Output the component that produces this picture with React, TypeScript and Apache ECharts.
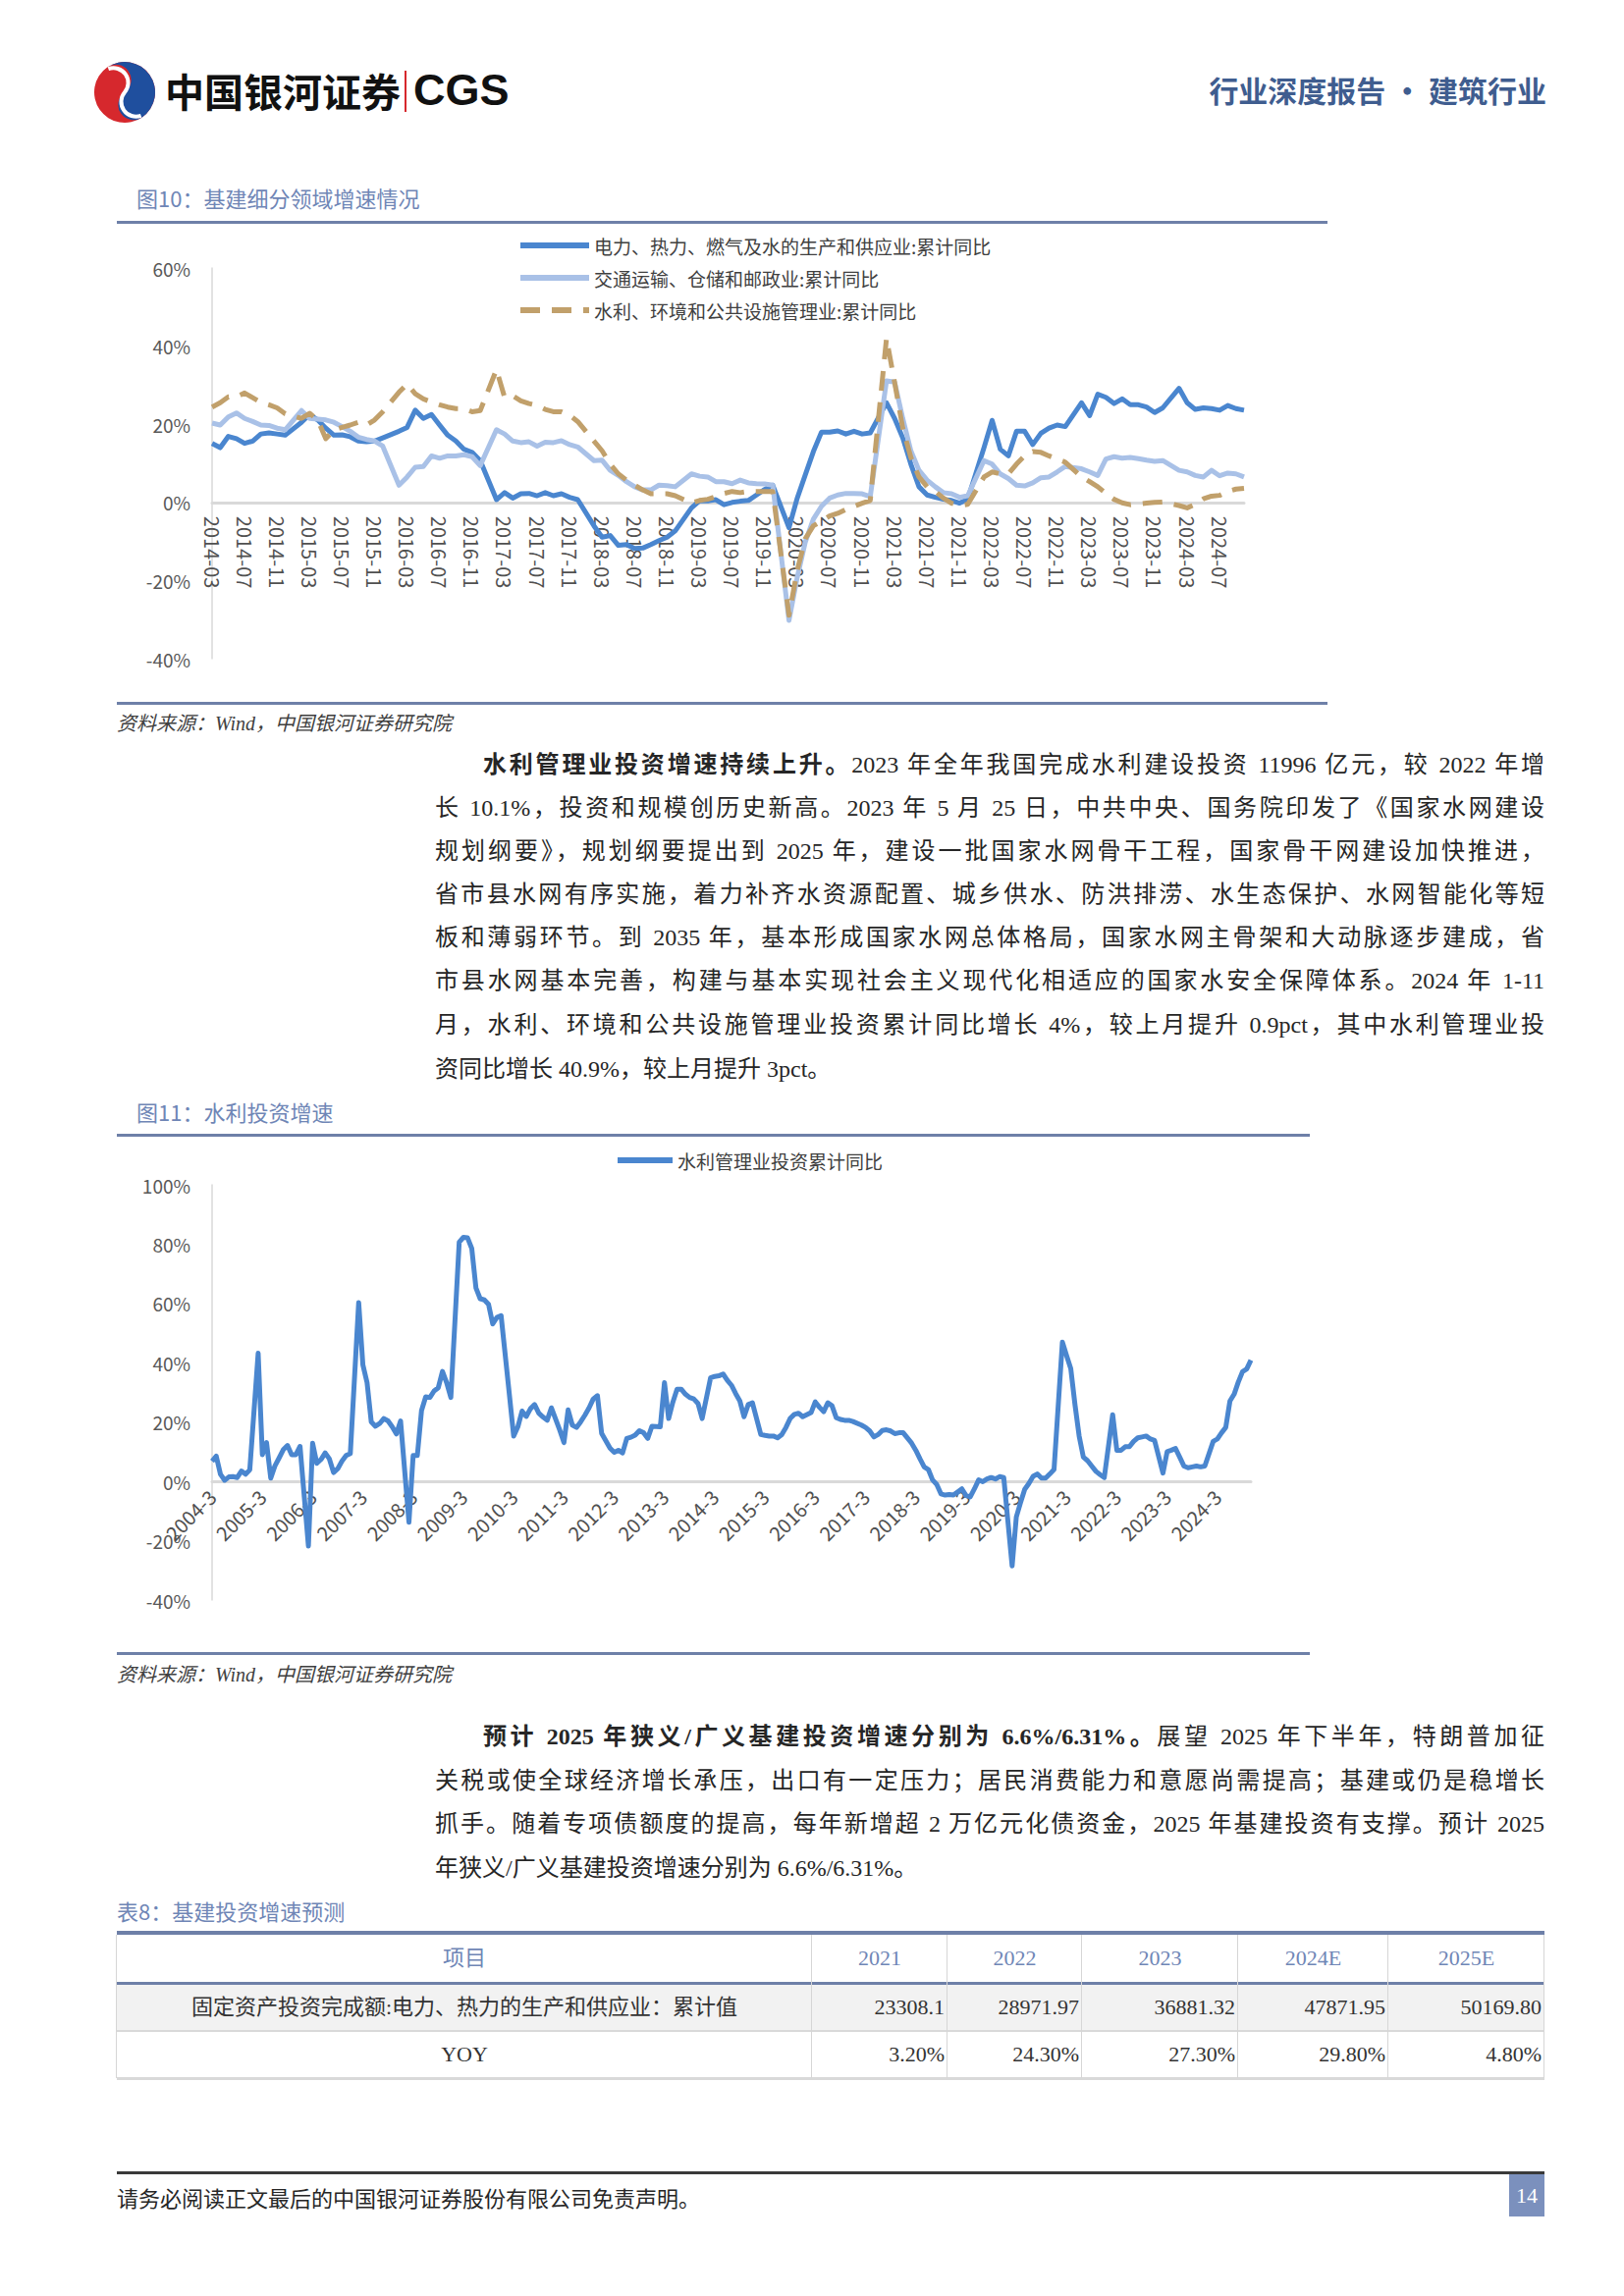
import React, { useEffect, useRef } from "react";
import * as echarts from "echarts";

// ---------- Chart 1 data (monthly, 2014-03 .. 2024-10; January not published -> null) ----------
const c1Start = { y: 2014, m: 3 };
const c1Count = 128;
const s1Name = "电力、热力、燃气及水的生产和供应业:累计同比";
const s2Name = "交通运输、仓储和邮政业:累计同比";
const s3Name = "水利、环境和公共设施管理业:累计同比";

const powerYoY = [
  15.1, 14.0, 16.9, 16.3, 15.1, 15.7, 17.5, 17.8, 17.5, 17.2,
  null, 20.5, 22.5, 21.1, 19.0, 17.2, 17.3, 16.8, 15.7, 15.5, 15.7, 16.5,
  null, 18.2, 19.2, 23.6, 21.5, 22.5, 19.8, 17.2, 15.7, 13.6, 12.8, 10.7,
  null, 0.7, 2.5, 1.1, 2.2, 2.3, 1.7, 2.5, 1.7, 2.2, 1.3, 0.7,
  null, -6.0, -8.9, -8.5, -11.0, -10.8, -11.8, -11.7, -10.8, -9.8, -8.9, -7.3,
  null, -1.4, 0.4, 0.4, 0.7, -0.6, 0.0, 0.3, 0.5, 1.9, 3.3, 4.4,
  null, -6.5, 1.0, 7.0, 13.0, 18.0, 18.0, 18.3, 17.5, 18.2, 17.5, 17.8,
  null, 25.5, 21.5, 16.5, 9.8, 4.0, 1.9, 1.3, 0.8, 0.5, -0.2, 0.8,
  null, 14.0, 21.0, 13.6, 11.9, 18.2, 18.2, 14.8, 17.7, 19.0, 19.8, 19.4,
  null, 25.5, 22.2, 27.7, 26.9, 25.3, 26.5, 25.0, 25.0, 24.4, 23.0, 24.2,
  null, 29.2, 25.5, 23.8, 24.2, 24.0, 23.6, 24.8, 24.0, 23.6,
];
const transportYoY = [
  20.3, 19.8, 21.9, 22.9, 21.5, 20.7, 19.8, 19.7, 19.0, 18.6,
  null, 23.5, 21.5, 21.3, 21.1, 20.5, 19.4, 18.2, 16.7, 16.1, 15.7, 14.4,
  null, 4.4, 6.5, 9.0, 9.2, 11.9, 11.3, 11.9, 11.9, 12.2, 11.7, 9.4,
  null, 18.6, 17.5, 15.7, 15.3, 15.5, 14.4, 15.4, 15.3, 15.8, 14.8, 14.2,
  null, 10.7, 10.8, 8.2, 6.9, 5.3, 4.0, 3.2, 3.2, 4.4, 4.3, 4.0,
  null, 7.3, 6.7, 6.5, 5.3, 5.3, 4.8, 5.7, 5.0, 4.8, 4.7, 4.4,
  null, -30.2, -19.3, -10.2, -4.3, -1.0, 1.1, 1.9, 2.3, 2.3, 2.2, 1.5,
  null, 31.1, 30.8, 21.5, 13.2, 8.2, 5.7, 4.0, 2.5, 2.2, 1.3, 1.7,
  null, 10.7, 9.8, 7.3, 6.1, 4.4, 4.2, 5.0, 6.3, 6.5, 7.8, 9.2,
  null, 8.6, 7.8, 6.9, 11.1, 11.7, 11.3, 11.5, 11.2, 10.8, 10.5, 10.7,
  null, 8.2, 7.8, 6.9, 6.5, 8.2, 6.8, 7.5, 7.3, 6.5,
];
const waterEnvYoY = [
  24.4, 25.5, 27.0, 27.0, 28.0, 26.8, 25.6, 25.0, 24.2, 22.7,
  null, 21.5, 22.8, 21.1, 16.3, 18.6, 19.2, 19.8, 20.5, 19.8, 21.1, 23.2,
  null, 28.2, 30.3, 27.8, 26.5, 25.7, 25.0, 24.4, 24.0, 24.0, 23.2, 23.5,
  null, 34.0, 26.9, 27.3, 26.0, 25.3, 24.8, 23.8, 23.2, 23.2, 22.3, 20.7,
  null, 15.7, 13.2, 9.8, 7.3, 5.7, 4.4, 3.2, 2.2, 2.2, 2.2, 1.7,
  null, -0.2, 0.5, 0.8, 1.5, 2.3, 2.8, 2.5, 2.8, 2.8, 2.8, 2.8,
  null, -28.9, -17.5, -9.3, -6.0, -4.8, -3.5, -2.8, -1.8, -1.0, -0.2, 0.5,
  null, 42.0, 30.7, 19.0, 11.5, 6.5, 4.0, 2.8, 1.1, -0.2, -0.8, -0.5,
  null, 6.5, 7.8, 7.3, 7.3, 9.8, 11.9, 13.0, 12.8, 11.9, 11.1, 10.3,
  null, 6.5, 5.3, 4.0, 2.3, 0.8, -0.1, -0.6, -0.4, -0.2, 0.0, 0.1,
  null, -0.8, -1.4, -0.5, 0.9, 1.6, 1.8, 2.8, 3.4, 3.6,
];

// ---------- Chart 2 data (monthly, 2004-03 .. 2024-11; January not published -> null) ----------
const c2Start = { y: 2004, m: 3 };
const c2Count = 249;
const waterMgmtName = "水利管理业投资累计同比";
const waterMgmtYoY = [
  6.8, 8.5, 2.4, 0.4, 1.5, 1.6, 1.3, 3.5, 2.4, 3.9,
  null, 43.2, 9.0, 13.1, 1.1, 5.2, 7.9, 10.7, 12.1, 9.0, 9.0, 11.8,
  null, -21.8, 12.9, 6.1, 7.4, 9.6, 7.6, 3.0, 4.3, 6.8, 8.7, 9.4,
  null, 60.3, 39.3, 33.3, 20.1, 18.6, 19.5, 21.2, 20.4, 18.4, 16.0, 20.4,
  null, -13.8, 8.7, 8.7, 23.9, 28.5, 28.3, 30.5, 31.6, 37.1, 33.3, 28.3,
  null, 80.7, 82.3, 82.1, 78.5, 65.2, 61.6, 61.2, 59.7, 53.1, 55.3, 55.9,
  null, 28.9, 15.3, 18.4, 23.7, 21.9, 24.5, 25.9, 23.0, 21.7, 20.6, 24.8,
  null, 17.3, 13.1, 24.1, 19.0, 18.2, 20.1, 22.3, 24.8, 27.8, 28.9, 16.2,
  null, 11.2, 9.8, 10.5, 9.6, 14.5, 14.9, 15.6, 17.1, 16.4, 14.5, 18.6,
  null, 18.4, 33.3, 21.2, 26.7, 31.1, 31.1, 29.4, 28.3, 27.8, 26.3, 21.2,
  null, 34.9, 35.4, 35.6, 36.2, 34.1, 32.4, 29.6, 27.1, 21.8, 25.9, 26.5,
  null, 15.8, 15.5, 15.3, 15.3, 14.7, 15.8, 18.2, 21.2, 22.6, 23.0, 21.8,
  null, 23.2, 26.8, 25.0, 23.5, 26.5, 25.5, 21.5, 20.9, 20.6, 20.6, 20.2,
  null, 19.0, 18.2, 17.0, 15.0, 15.8, 17.2, 17.4, 17.0, 16.1, 16.4, 16.4,
  null, 12.9, 10.5, 7.6, 4.9, 4.0, 0.5, -1.0, -4.2, -4.6, -4.4, -4.6,
  null, -2.5, -4.8, -5.2, -2.5, 0.5, -0.1, 0.8, 1.3, 0.8, 1.6, 1.3,
  null, -28.5, -12.0, -7.2, -2.7, -0.7, 1.7, 2.5, 1.1, 1.1, 2.5, 4.0,
  null, 47.0, 42.4, 38.0, 25.9, 15.3, 8.2, 7.0, 5.2, 3.4, 2.3, 1.3,
  null, 22.5, 10.5, 10.5, 11.7, 11.7, 13.5, 14.7, 15.0, 15.3, 14.3, 13.8,
  null, 2.8, 10.0, 10.5, 11.1, 8.2, 5.2, 4.6, 4.9, 5.2, 4.9, 5.2,
  null, 13.5, 14.3, 16.4, 18.2, 27.1, 29.4, 33.5, 37.0, 37.9, 40.9,
];

// ---------- Axis ranges / tick labels ----------
const c1YMin = -40, c1YMax = 60, c1YStep = 20;
const c2YMin = -40, c2YMax = 100, c2YStep = 20;

// ---------- Table data ----------
const tableHead = ["项目", "2021", "2022", "2023", "2024E", "2025E"];
const tableRow1Label = "固定资产投资完成额:电力、热力的生产和供应业：累计值";
const tableRow1 = ["23308.1", "28971.97", "36881.32", "47871.95", "50169.80"];
const tableRow2Label = "YOY";
const tableRow2 = ["3.20%", "24.30%", "27.30%", "29.80%", "4.80%"];

function months(start: { y: number; m: number }, count: number, pad: boolean) {
  const out: string[] = [];
  for (let k = 0; k < count; k++) {
    const t = start.m - 1 + k;
    const y = start.y + Math.floor(t / 12);
    const m = (t % 12) + 1;
    out.push(`${y}-${pad && m < 10 ? "0" + m : m}`);
  }
  return out;
}
const cats1 = months(c1Start, c1Count, true);
const cats2 = months(c2Start, c2Count, false);

const CJK = "'Noto Sans CJK SC', 'Noto Sans', sans-serif";
const SERIF = "'Liberation Serif', 'Noto Sans CJK SC', serif";
const BLUE = "#4a86cf";
const LIGHT = "#a9c1e7";
const TAN = "#c1a06b";
const TITLE = "#6f86b6";
const RULE = "#6e80a8";

function abs(left: number, top: number, extra: React.CSSProperties = {}): React.CSSProperties {
  return { position: "absolute", left, top, ...extra };
}

const p1Lines: React.ReactNode[] = [
  <>
    <b>水利管理业投资增速持续上升。</b>2023 年全年我国完成水利建设投资 11996 亿元，较 2022 年增
  </>,
  <>长 10.1%，投资和规模创历史新高。2023 年 5 月 25 日，中共中央、国务院印发了《国家水网建设</>,
  <>规划纲要》，规划纲要提出到 2025 年，建设一批国家水网骨干工程，国家骨干网建设加快推进，</>,
  <>省市县水网有序实施，着力补齐水资源配置、城乡供水、防洪排涝、水生态保护、水网智能化等短</>,
  <>板和薄弱环节。到 2035 年，基本形成国家水网总体格局，国家水网主骨架和大动脉逐步建成，省</>,
  <>市县水网基本完善，构建与基本实现社会主义现代化相适应的国家水安全保障体系。2024 年 1-11</>,
  <>月，水利、环境和公共设施管理业投资累计同比增长 4%，较上月提升 0.9pct，其中水利管理业投</>,
  <>资同比增长 40.9%，较上月提升 3pct。</>,
];
const p1Y = [779, 823, 867, 911, 955, 999, 1044, 1089];

const p2Lines: React.ReactNode[] = [
  <>
    <b>预计 2025 年狭义/广义基建投资增速分别为 6.6%/6.31%。</b>展望 2025 年下半年，特朗普加征
  </>,
  <>关税或使全球经济增长承压，出口有一定压力；居民消费能力和意愿尚需提高；基建或仍是稳增长</>,
  <>抓手。随着专项债额度的提高，每年新增超 2 万亿元化债资金，2025 年基建投资有支撑。预计 2025</>,
  <>年狭义/广义基建投资增速分别为 6.6%/6.31%。</>,
];
const p2Y = [1769, 1814, 1858, 1903];

function Paragraph({ lines, ys }: { lines: React.ReactNode[]; ys: number[] }) {
  return (
    <>
      {lines.map((ln, i) => {
        const left = i === 0 ? 492 : 443;
        const last = i === lines.length - 1;
        return (
          <div
            key={i}
            style={abs(left, ys[i] - 22, {
              width: 1573 - left,
              height: 44,
              lineHeight: "44px",
              fontSize: 24,
              fontFamily: SERIF,
              color: "#262626",
              textAlign: last ? "left" : "justify",
              textAlignLast: last ? "left" : "justify",
              overflow: "hidden",
            } as React.CSSProperties)}
          >
            {ln}
          </div>
        );
      })}
    </>
  );
}

export default function App() {
  const ref1 = useRef<HTMLDivElement>(null);
  const ref2 = useRef<HTMLDivElement>(null);

  useEffect(() => {
    const ch1 = echarts.init(ref1.current!, undefined, { renderer: "svg" });
    const ch2 = echarts.init(ref2.current!, undefined, { renderer: "svg" });

    const lineSeries = (name: string, data: (number | null)[], color: string, dashed = false) => ({
      name,
      type: "line",
      data,
      symbol: "none",
      showSymbol: false,
      connectNulls: true,
      lineStyle: { width: 5, color, type: dashed ? [20, 12] : "solid", cap: "butt", join: "round" },
      itemStyle: { color },
    });

    const legendBase = {
      itemHeight: 14,
      itemStyle: { opacity: 0, borderWidth: 0 },
      lineStyle: { width: 6, cap: "butt" },
      textStyle: { fontSize: 19, lineHeight: 20, color: "#404040", fontFamily: CJK },
    };

    const g1 = { left: 116, top: 43, width: 1051, height: 398 };
    const g2 = { left: 116, top: 47, width: 1058, height: 423 };
    const zeroOffset = (h: number, min: number, max: number) => -h * (0 - min) / (max - min);

    ch1.setOption({
      animation: false,
      textStyle: { fontFamily: CJK },
      legend: {
        ...legendBase,
        orient: "vertical",
        left: 422,
        top: 5,
        itemWidth: 70,
        itemGap: 13,
        data: [s1Name, s2Name, s3Name],
      },
      grid: { ...g1, containLabel: false, outerBoundsMode: "none" },
      xAxis: {
        type: "category",
        data: cats1,
        boundaryGap: false,
        offset: zeroOffset(g1.height, c1YMin, c1YMax),
        axisLine: { onZero: false, lineStyle: { color: "#d9d9d9", width: 3 } },
        axisTick: { show: false },
        axisLabel: { interval: 3, rotate: -90, fontSize: 20, color: "#505050", margin: 14, fontFamily: CJK },
        splitLine: { show: false },
      },
      yAxis: {
        type: "value",
        min: c1YMin,
        max: c1YMax,
        interval: c1YStep,
        axisLine: { show: true, lineStyle: { color: "#d9d9d9", width: 1.5 } },
        axisTick: { show: false },
        splitLine: { show: false },
        axisLabel: { formatter: "{value}%", fontSize: 19, color: "#595959", margin: 22, fontFamily: CJK },
      },
      series: [
        lineSeries(s1Name, powerYoY, BLUE),
        lineSeries(s2Name, transportYoY, LIGHT),
        lineSeries(s3Name, waterEnvYoY, TAN, true),
      ],
    });

    ch2.setOption({
      animation: false,
      textStyle: { fontFamily: CJK },
      legend: {
        ...legendBase,
        left: 521,
        top: 7,
        itemWidth: 56,
        data: [waterMgmtName],
      },
      grid: { ...g2, containLabel: false, outerBoundsMode: "none" },
      xAxis: {
        type: "category",
        data: cats2,
        boundaryGap: false,
        offset: zeroOffset(g2.height, c2YMin, c2YMax),
        axisLine: { onZero: false, lineStyle: { color: "#d9d9d9", width: 3 } },
        axisTick: { show: false },
        axisLabel: { interval: 11, rotate: 45, fontSize: 20, color: "#505050", margin: 12, fontFamily: CJK },
        splitLine: { show: false },
      },
      yAxis: {
        type: "value",
        min: c2YMin,
        max: c2YMax,
        interval: c2YStep,
        axisLine: { show: true, lineStyle: { color: "#d9d9d9", width: 1.5 } },
        axisTick: { show: false },
        splitLine: { show: false },
        axisLabel: { formatter: "{value}%", fontSize: 19, color: "#595959", margin: 22, fontFamily: CJK },
      },
      series: [lineSeries(waterMgmtName, waterMgmtYoY, BLUE)],
    });

    return () => {
      ch1.dispose();
      ch2.dispose();
    };
  }, []);

  const colX = [119, 827, 965, 1102, 1261, 1414, 1573];

  return (
    <div style={{ position: "absolute", left: 0, top: 0, width: 1654, height: 2339, background: "#fff", overflow: "hidden" }}>
      {/* ---------- Header ---------- */}
      <svg style={abs(92, 60)} width="70" height="68" viewBox="0 0 70 68">
        <g transform="rotate(-35 35 34)">
          <ellipse cx="35" cy="34" rx="31" ry="31" fill="#d6282d" />
          <path d="M35 3 A31 31 0 0 1 35 65 A15.5 15.5 0 0 1 35 34 A15.5 15.5 0 0 0 35 3 Z" fill="#1f4f9e" />
          <path d="M35 5 A15 15 0 0 1 35 34 A15 15 0 0 0 35 63" fill="none" stroke="#fff" strokeWidth="4" />
        </g>
      </svg>
      <div style={abs(168, 68, { fontSize: 40, fontWeight: 700, fontFamily: CJK, color: "#111", lineHeight: "48px" })}>中国银河证券</div>
      <div style={abs(412, 72, { width: 2, height: 42, background: "#d6282d" })} />
      <div style={abs(421, 67, { fontSize: 45, fontWeight: 700, fontFamily: "'Liberation Sans', Arial, sans-serif", color: "#111", lineHeight: "50px" })}>CGS</div>
      <div style={abs(1175, 72, { width: 400, textAlign: "right", fontSize: 30, fontWeight: 700, fontFamily: CJK, color: "#3f5d8f", lineHeight: "38px" })}>
        行业深度报告 · 建筑行业
      </div>

      {/* ---------- Figure 10 ---------- */}
      <div style={abs(139, 186, { fontSize: 22, fontFamily: CJK, color: TITLE, lineHeight: "30px" })}>图10：基建细分领域增速情况</div>
      <div style={abs(119, 225, { width: 1233, height: 3, background: RULE })} />
      <div ref={ref1} style={abs(100, 230, { width: 1260, height: 480 })} />
      <div style={abs(119, 715, { width: 1233, height: 3, background: RULE })} />
      <div style={abs(119, 723, { fontSize: 20, fontStyle: "italic", fontFamily: SERIF, color: "#404040", lineHeight: "28px" })}>
        资料来源：Wind，中国银河证券研究院
      </div>

      <Paragraph lines={p1Lines} ys={p1Y} />

      {/* ---------- Figure 11 ---------- */}
      <div style={abs(139, 1117, { fontSize: 22, fontFamily: CJK, color: TITLE, lineHeight: "30px" })}>图11：水利投资增速</div>
      <div style={abs(119, 1155, { width: 1215, height: 3, background: RULE })} />
      <div ref={ref2} style={abs(100, 1160, { width: 1250, height: 520 })} />
      <div style={abs(119, 1683, { width: 1215, height: 3, background: RULE })} />
      <div style={abs(119, 1692, { fontSize: 20, fontStyle: "italic", fontFamily: SERIF, color: "#404040", lineHeight: "28px" })}>
        资料来源：Wind，中国银河证券研究院
      </div>

      <Paragraph lines={p2Lines} ys={p2Y} />

      {/* ---------- Table ---------- */}
      <div style={abs(119, 1931, { fontSize: 22, fontFamily: CJK, color: TITLE, lineHeight: "30px" })}>表8：基建投资增速预测</div>
      <div style={abs(119, 2021, { width: 1454, height: 48, background: "#f2f2f2" })} />
      <div style={abs(119, 1967, { width: 1454, height: 4, background: RULE })} />
      <div style={abs(119, 2019, { width: 1454, height: 3, background: RULE })} />
      <div style={abs(119, 2068, { width: 1454, height: 2, background: "#d9d9d9" })} />
      <div style={abs(119, 2116, { width: 1454, height: 3, background: "#d9d9d9" })} />
      {colX.map((x, i) => (
        <div key={"v" + i} style={abs(x - 1, 1971, { width: 1, height: 146, background: "#d6d6d6" })} />
      ))}
      {tableHead.map((h, i) => (
        <div
          key={"h" + i}
          style={abs(colX[i], 1971, { width: colX[i + 1] - colX[i], height: 48, lineHeight: "48px", textAlign: "center", fontSize: 22, fontFamily: SERIF, color: TITLE })}
        >
          {h}
        </div>
      ))}
      <div style={abs(colX[0], 2021, { width: colX[1] - colX[0], height: 48, lineHeight: "48px", textAlign: "center", fontSize: 22, fontFamily: SERIF, color: "#333" })}>
        {tableRow1Label}
      </div>
      {tableRow1.map((v, i) => (
        <div
          key={"r1" + i}
          style={abs(colX[i + 1], 2021, { width: colX[i + 2] - colX[i + 1] - 3, height: 48, lineHeight: "48px", textAlign: "right", fontSize: 22, fontFamily: SERIF, color: "#333" })}
        >
          {v}
        </div>
      ))}
      <div style={abs(colX[0], 2070, { width: colX[1] - colX[0], height: 46, lineHeight: "46px", textAlign: "center", fontSize: 22, fontFamily: SERIF, color: "#333" })}>
        {tableRow2Label}
      </div>
      {tableRow2.map((v, i) => (
        <div
          key={"r2" + i}
          style={abs(colX[i + 1], 2070, { width: colX[i + 2] - colX[i + 1] - 3, height: 46, lineHeight: "46px", textAlign: "right", fontSize: 22, fontFamily: SERIF, color: "#333" })}
        >
          {v}
        </div>
      ))}

      {/* ---------- Footer ---------- */}
      <div style={abs(119, 2212, { width: 1454, height: 3, background: "#3a3a3a" })} />
      <div style={abs(119, 2223, { fontSize: 22, fontFamily: CJK, color: "#262626", lineHeight: "30px" })}>
        请务必阅读正文最后的中国银河证券股份有限公司免责声明。
      </div>
      <div style={abs(1537, 2215, { width: 36, height: 43, background: "#7b90bd", color: "#fff", fontSize: 22, fontFamily: SERIF, textAlign: "center", lineHeight: "43px" })}>
        14
      </div>
    </div>
  );
}
